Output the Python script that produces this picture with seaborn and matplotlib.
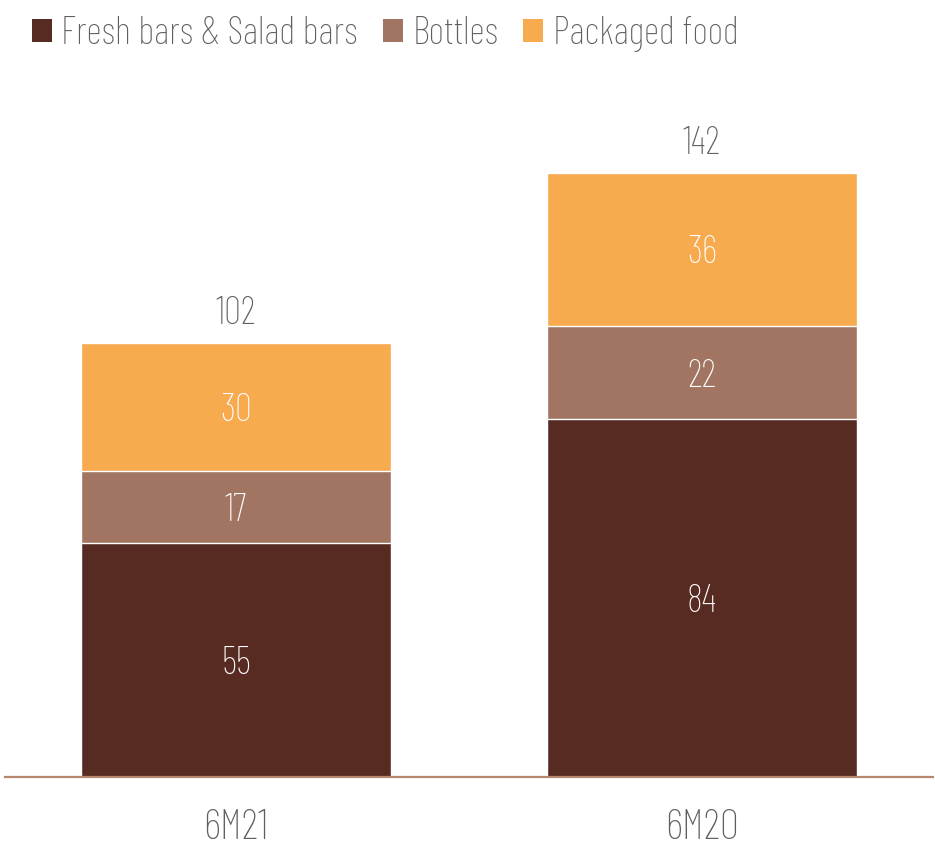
import matplotlib
matplotlib.use("Agg")
import matplotlib.pyplot as plt
from matplotlib.patches import Patch
import numpy as np
import pandas as pd
import seaborn as sns

periods = ["6M21", "6M20"]
series_names = ["Fresh bars & Salad bars", "Bottles", "Packaged food"]
fresh = [55, 84]
bottles = [17, 22]
packaged = [30, 36]
totals = [102, 142]

colors = ["#572B22", "#A27563", "#F7AA4E"]
text_grey = "#5F5F5F"

sns.set_theme(style="white")
plt.rcParams["font.family"] = ["Barlow Condensed", "Roboto Condensed", "Liberation Sans", "DejaVu Sans"]
plt.rcParams["font.weight"] = "light"

fig = plt.figure(figsize=(9.35, 8.51), dpi=100)
ax = fig.add_axes([5 / 935, 74 / 851, 928 / 935, 681 / 851])

layers = [fresh, bottles, packaged]
cum = np.cumsum(np.array(layers), axis=0)

# Stacked bars drawn as overlapping cumulative heights, tallest first
for i in reversed(range(len(layers))):
    df = pd.DataFrame({"period": periods, "value": cum[i]})
    sns.barplot(data=df, x="period", y="value", color=colors[i], width=0.665,
                edgecolor="white", linewidth=1.0, saturation=1, ax=ax, zorder=2)

# Segment values and totals
for j in range(len(periods)):
    base = 0
    for i, vals in enumerate(layers):
        v = vals[j]
        ax.annotate(f"{v}", xy=(j, base + v / 2), xytext=(0, -3),
                    textcoords="offset points", ha="center", va="center",
                    color="white", fontsize=27.5, zorder=5)
        base += v
    ax.annotate(f"{totals[j]}", xy=(j, totals[j]), xytext=(0, 20.5),
                textcoords="offset points", ha="center", va="center",
                color=text_grey, fontsize=27.5)

ax.set_xlim(-0.496, 1.496)
ax.set_ylim(0, 160)
ax.set_xlabel("")
ax.set_ylabel("")
ax.set_yticks([])
ax.tick_params(axis="x", length=0, pad=23, labelsize=31, labelcolor=text_grey)
for s in ["top", "right", "left"]:
    ax.spines[s].set_visible(False)
ax.spines["bottom"].set_color("#B5876F")
ax.spines["bottom"].set_linewidth(1.6)
ax.spines["bottom"].set_zorder(4)

handles = [Patch(facecolor=c, edgecolor="none") for c in colors]
fig.legend(handles, series_names, loc="upper left", bbox_to_anchor=(0.0, 1.019),
           ncol=3, frameon=False, fontsize=27.5, handlelength=0.52, handleheight=0.55,
           handletextpad=0.26, columnspacing=0.65, labelcolor=text_grey,
           borderaxespad=0.43)

fig.savefig("out.png", dpi=100)
